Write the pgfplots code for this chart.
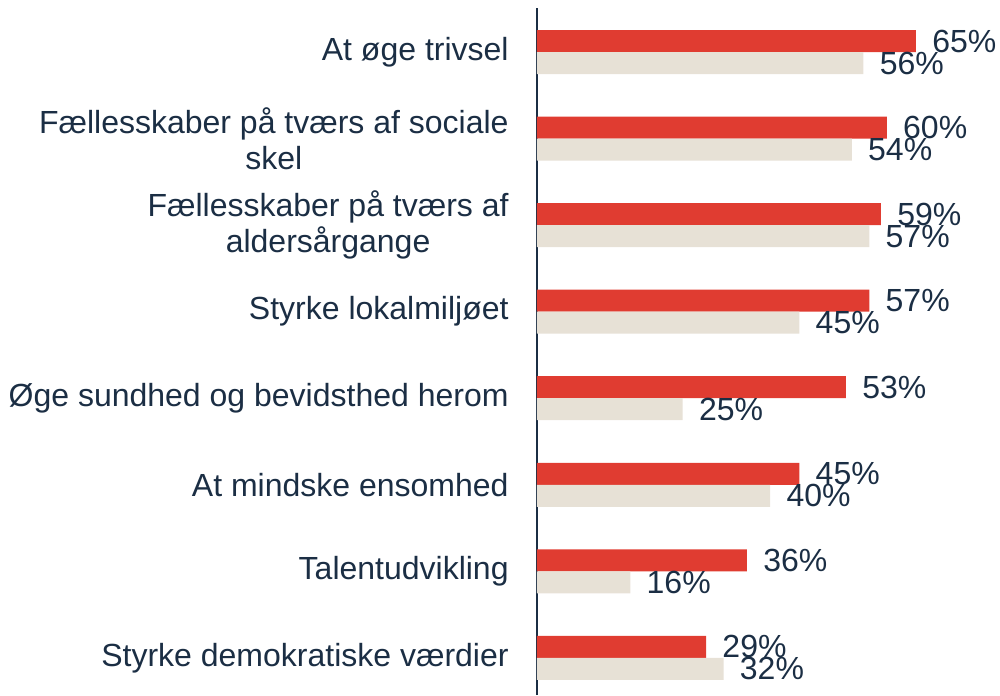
\documentclass[border=0pt]{standalone}
\usepackage{fontspec}
\setmainfont{Liberation Sans}
\usepackage{pgfplots}
\pgfplotsset{compat=1.18}
\definecolor{cred}{HTML}{E03C31}
\definecolor{cbeige}{HTML}{E7E1D6}
\definecolor{navy}{HTML}{1B2E44}
\begin{document}
\begin{tikzpicture}
\begin{axis}[
  name=ax,
  xbar,
  scale only axis,
  width=233.2pt, height=343.5pt,
  xmin=0, xmax=80,
  ymin=-0.43, ymax=7.51,
  hide x axis,
  axis y line*=left,
  y axis line style={draw=navy, line width=1pt, -},
  ytick={0,...,7},
  yticklabels={Styrke demokratiske værdier, Talentudvikling, At mindske ensomhed, Øge sundhed og bevidsthed herom, Styrke lokalmiljøet, {Fællesskaber på tværs af\\aldersårgange}, {Fællesskaber på tværs af sociale\\skel}, At øge trivsel},
  major tick length=0pt,
  yticklabel style={align=center, font=\fontsize{16}{18}\selectfont, text=navy, inner sep=0pt, xshift=-14pt},
  bar width=11pt,
  point meta=x,
  /pgf/number format/assume math mode=true,
  nodes near coords={\pgfmathprintnumber{\pgfplotspointmeta}\%},
  nodes near coords style={font=\fontsize{16}{18}\selectfont, text=navy, anchor=west, inner sep=0pt, xshift=8pt},
  clip=false,
]
\addplot[fill=cred, draw=none, bar shift=5.5pt] coordinates {(65,7) (60,6) (59,5) (57,4) (53,3) (45,2) (36,1) (29,0)};
\addplot[fill=cbeige, draw=none, bar shift=-5.5pt] coordinates {(56,7) (54,6) (57,5) (45,4) (25,3) (40,2) (16,1) (32,0)};
\end{axis}
\pgfresetboundingbox
\path[use as bounding box] ([xshift=-268.5pt]ax.south west) rectangle ([xshift=231.5pt,yshift=4pt]ax.north west);
\end{tikzpicture}
\end{document}
